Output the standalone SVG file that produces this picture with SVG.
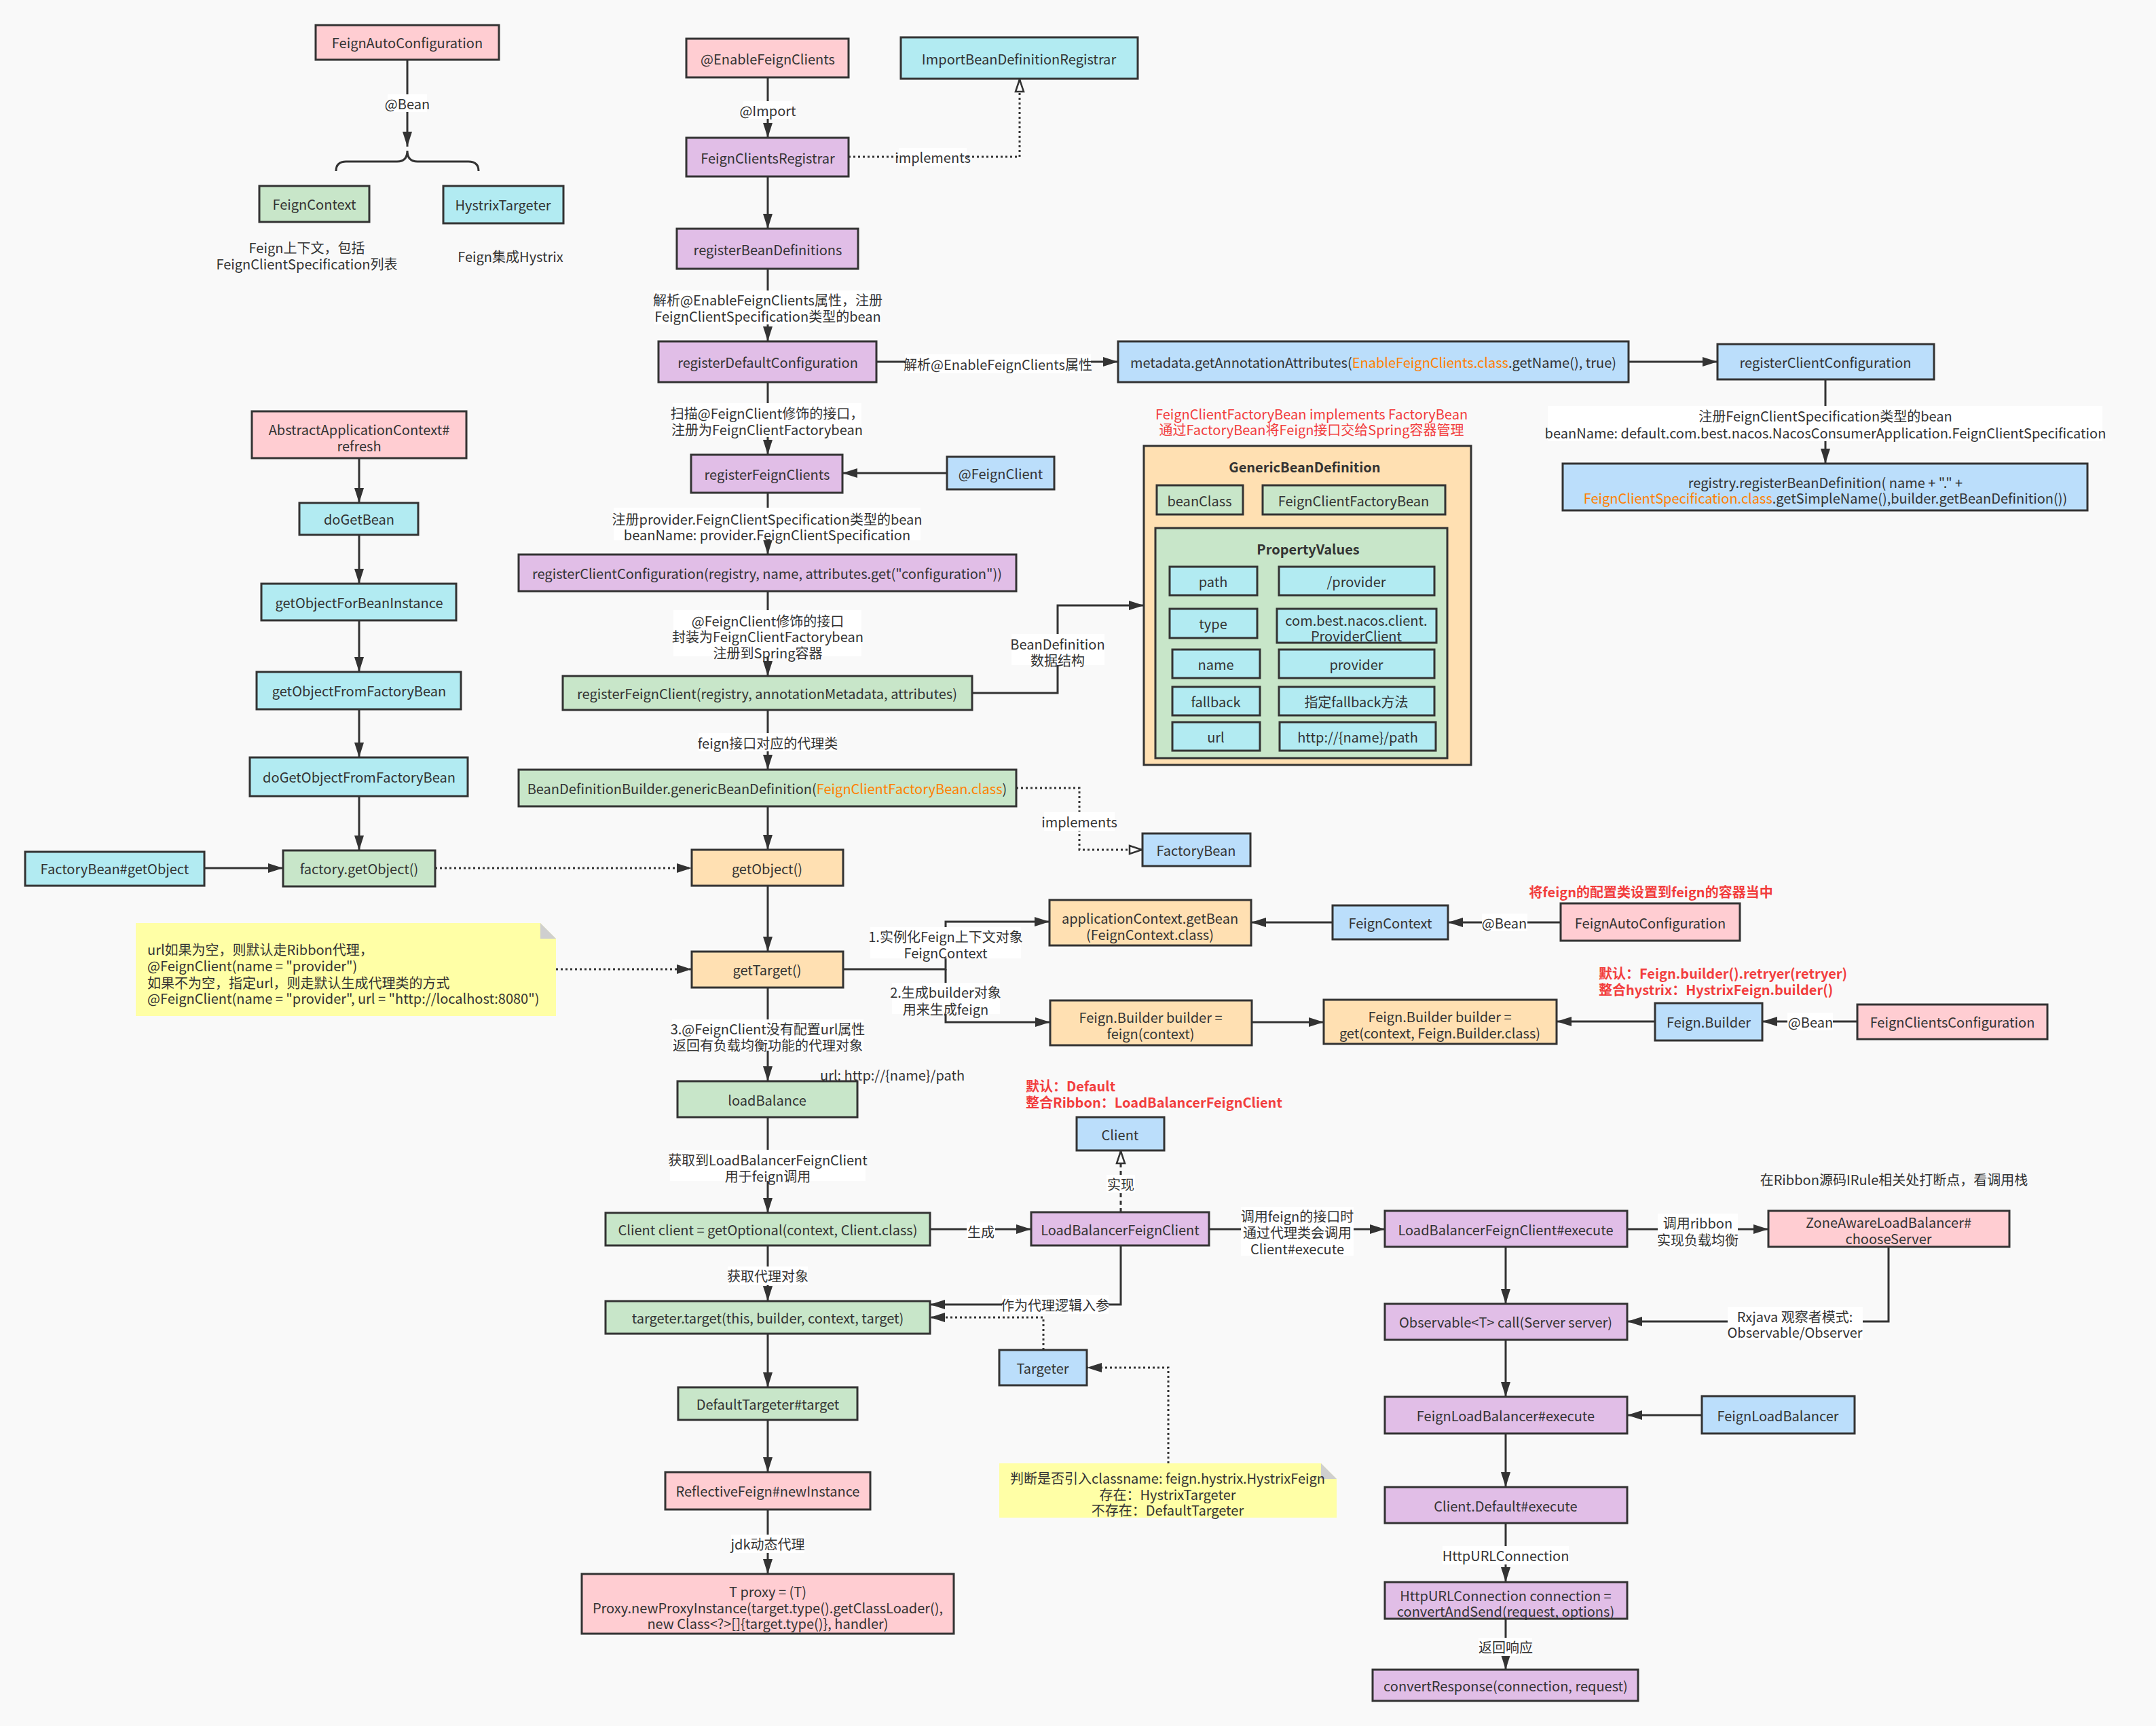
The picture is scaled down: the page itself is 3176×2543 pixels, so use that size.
<svg xmlns="http://www.w3.org/2000/svg" width="3176" height="2543" viewBox="0 0 3176 2543">
<style>
.n{stroke:#333;stroke-width:3}
.pk{fill:#ffcdd2}.pu{fill:#e1bee7}.gr{fill:#c8e6c9}.cy{fill:#b2ebf2}.bl{fill:#bbdefb}.or{fill:#ffe0b2}
.t{font-family:"Noto Sans CJK SC","Noto Sans",sans-serif;font-size:20px;fill:#333;text-anchor:middle;dominant-baseline:central}
.l{text-anchor:start}
.b{font-weight:bold}
.red{fill:#f23d3d}
.o{fill:#ff7f00}
.c{fill:none;stroke:#333;stroke-width:3}
.d{stroke-dasharray:3 4}
.w{fill:#fff}
</style>
<defs>
<marker id="a" markerUnits="userSpaceOnUse" markerWidth="24" markerHeight="18" refX="22" refY="8" orient="auto"><path d="M0,1 L22,8 L0,15 Z" fill="#333"/></marker>
<marker id="h" markerUnits="userSpaceOnUse" markerWidth="24" markerHeight="18" refX="21" refY="8" orient="auto"><path d="M2,2 L20,8 L2,14 Z" fill="#fff" stroke="#333" stroke-width="2.5"/></marker>
</defs>
<rect width="3176" height="2543" fill="#f9f9f9"/>

<g id="connectors">
<path class="c" d="M600,88 V216" marker-end="url(#a)"/>
<path class="c" d="M495,252 Q495,238 510,238 H585 Q600,238 600,222 Q600,238 615,238 H690 Q705,238 705,252"/>
<path class="c" d="M529,675 V741" marker-end="url(#a)"/>
<path class="c" d="M529,788 V860" marker-end="url(#a)"/>
<path class="c" d="M529,914 V990" marker-end="url(#a)"/>
<path class="c" d="M529,1045 V1116" marker-end="url(#a)"/>
<path class="c" d="M529,1173 V1253" marker-end="url(#a)"/>
<path class="c" d="M301,1279 H417" marker-end="url(#a)"/>
<path class="c d" d="M641,1279 H1019" marker-end="url(#a)"/>
<path class="c" d="M1131,114 V203" marker-end="url(#a)"/>
<path class="c d" d="M1250,231 H1502 V116" marker-end="url(#h)"/>
<path class="c" d="M1131,260 V337" marker-end="url(#a)"/>
<path class="c" d="M1131,396 V503" marker-end="url(#a)"/>
<path class="c" d="M1291,533 H1647" marker-end="url(#a)"/>
<path class="c" d="M2399,533 H2530" marker-end="url(#a)"/>
<path class="c" d="M2689,559 V683" marker-end="url(#a)"/>
<path class="c" d="M1131,563 V670" marker-end="url(#a)"/>
<path class="c" d="M1395,697 H1241" marker-end="url(#a)"/>
<path class="c" d="M1131,726 V817" marker-end="url(#a)"/>
<path class="c" d="M1131,871 V996" marker-end="url(#a)"/>
<path class="c" d="M1432,1021 H1558 V892 H1685" marker-end="url(#a)"/>
<path class="c" d="M1131,1046 V1134" marker-end="url(#a)"/>
<path class="c d" d="M1497,1161 H1590 V1252 H1683" marker-end="url(#h)"/>
<path class="c" d="M1131,1188 V1252" marker-end="url(#a)"/>
<path class="c" d="M1131,1305 V1402" marker-end="url(#a)"/>
<path class="c d" d="M819,1428 H1019" marker-end="url(#a)"/>
<path class="c" d="M1242,1428 H1393 V1358 H1546" marker-end="url(#a)"/>
<path class="c" d="M1393,1428 V1506 H1547" marker-end="url(#a)"/>
<path class="c" d="M1963,1359 H1843" marker-end="url(#a)"/>
<path class="c" d="M2299,1359 H2133" marker-end="url(#a)"/>
<path class="c" d="M1844,1506 H1950" marker-end="url(#a)"/>
<path class="c" d="M2438,1505 H2293" marker-end="url(#a)"/>
<path class="c" d="M2736,1505 H2596" marker-end="url(#a)"/>
<path class="c" d="M1131,1455 V1593" marker-end="url(#a)"/>
<path class="c" d="M1131,1646 V1787" marker-end="url(#a)"/>
<path class="c" d="M1370,1811 H1519" marker-end="url(#a)"/>
<path class="c" d="M1651,1786 V1695" stroke-dasharray="6 5" marker-end="url(#h)"/>
<path class="c" d="M1781,1811 H2040" marker-end="url(#a)"/>
<path class="c" d="M1131,1835 V1917" marker-end="url(#a)"/>
<path class="c" d="M1651,1835 V1922 H1370" marker-end="url(#a)"/>
<path class="c d" d="M1537,1989 V1941 H1370" marker-end="url(#a)"/>
<path class="c d" d="M1721,2156 V2015 H1601" marker-end="url(#a)"/>
<path class="c" d="M1131,1965 V2044" marker-end="url(#a)"/>
<path class="c" d="M1131,2092 V2169" marker-end="url(#a)"/>
<path class="c" d="M1131,2224 V2319" marker-end="url(#a)"/>
<path class="c" d="M2397,1811 H2605" marker-end="url(#a)"/>
<path class="c" d="M2782,1837 V1947 H2397" marker-end="url(#a)"/>
<path class="c" d="M2218,1837 V1921" marker-end="url(#a)"/>
<path class="c" d="M2218,1974 V2058" marker-end="url(#a)"/>
<path class="c" d="M2507,2085 H2397" marker-end="url(#a)"/>
<path class="c" d="M2218,2112 V2191" marker-end="url(#a)"/>
<path class="c" d="M2218,2244 V2331" marker-end="url(#a)"/>
<path class="c" d="M2218,2385 V2460" marker-end="url(#a)"/>

<rect class="w" x="571" y="139" width="58" height="26"/><text class="t" x="600" y="152">@Bean</text>
<rect class="w" x="1095" y="149" width="72" height="26"/><text class="t" x="1131" y="162">@Import</text>
<rect class="w" x="1324" y="218" width="100" height="26"/><text class="t" x="1374" y="231">implements</text>
<rect class="w" x="964" y="428" width="333" height="50"/><text class="t" x="1131" y="441">解析@EnableFeignClients属性，注册</text><text class="t" x="1131" y="465">FeignClientSpecification类型的bean</text>
<rect class="w" x="1333" y="522" width="274" height="28"/><text class="t" x="1470" y="536">解析@EnableFeignClients属性</text>
<rect class="w" x="2280" y="598" width="817" height="52"/><text class="t" x="2689" y="612">注册FeignClientSpecification类型的bean</text><text class="t" x="2689" y="637">beanName: default.com.best.nacos.NacosConsumerApplication.FeignClientSpecification</text>
<rect class="w" x="991" y="594" width="278" height="50"/><text class="t" x="1130" y="608">扫描@FeignClient修饰的接口，</text><text class="t" x="1130" y="632">注册为FeignClientFactorybean</text>
<rect class="w" x="904" y="748" width="452" height="48"/><text class="t" x="1130" y="764">注册provider.FeignClientSpecification类型的bean</text><text class="t" x="1130" y="787">beanName: provider.FeignClientSpecification</text>
<rect class="w" x="992" y="899" width="277" height="68"/><text class="t" x="1131" y="914">@FeignClient修饰的接口</text><text class="t" x="1131" y="937">封装为FeignClientFactorybean</text><text class="t" x="1131" y="961">注册到Spring容器</text>
<rect class="w" x="1490" y="934" width="137" height="46"/><text class="t" x="1558" y="948">BeanDefinition</text><text class="t" x="1558" y="972">数据结构</text>
<rect class="w" x="1029" y="1080" width="204" height="27"/><text class="t" x="1131" y="1094">feign接口对应的代理类</text>
<rect class="w" x="1538" y="1196" width="104" height="28"/><text class="t" x="1590" y="1210">implements</text>
<rect class="w" x="1282" y="1366" width="222" height="46"/><text class="t" x="1393" y="1379">1.实例化Feign上下文对象</text><text class="t" x="1393" y="1403">FeignContext</text>
<rect class="w" x="1314" y="1448" width="159" height="46"/><text class="t" x="1393" y="1461">2.生成builder对象</text><text class="t" x="1393" y="1486">用来生成feign</text>
<rect class="w" x="2183" y="1346" width="67" height="26"/><text class="t" x="2216" y="1359">@Bean</text>
<rect class="w" x="2633" y="1492" width="67" height="26"/><text class="t" x="2667" y="1505">@Bean</text>
<rect class="w" x="990" y="1502" width="282" height="46"/><text class="t" x="1131" y="1515">3.@FeignClient没有配置url属性</text><text class="t" x="1131" y="1539">返回有负载均衡功能的代理对象</text>
<rect class="w" x="987" y="1694" width="288" height="46"/><text class="t" x="1131" y="1708">获取到LoadBalancerFeignClient</text><text class="t" x="1131" y="1732">用于feign调用</text>
<rect class="w" x="1424" y="1801" width="42" height="26"/><text class="t" x="1445" y="1814">生成</text>
<rect class="w" x="1630" y="1731" width="42" height="26"/><text class="t" x="1651" y="1744">实现</text>
<rect class="w" x="1828" y="1778" width="166" height="72"/><text class="t" x="1911" y="1791">调用feign的接口时</text><text class="t" x="1911" y="1815">通过代理类会调用</text><text class="t" x="1911" y="1839">Client#execute</text>
<rect class="w" x="1072" y="1866" width="118" height="27"/><text class="t" x="1131" y="1879">获取代理对象</text>
<rect class="w" x="1476" y="1908" width="157" height="28"/><text class="t" x="1554" y="1922">作为代理逻辑入参</text>
<rect class="w" x="1077" y="2261" width="108" height="27"/><text class="t" x="1131" y="2274">jdk动态代理</text>
<rect class="w" x="2442" y="1788" width="118" height="50"/><text class="t" x="2501" y="1801">调用ribbon</text><text class="t" x="2501" y="1826">实现负载均衡</text>
<rect class="w" x="2545" y="1926" width="199" height="48"/><text class="t" x="2644" y="1939">Rxjava 观察者模式:</text><text class="t" x="2644" y="1962">Observable/Observer</text>
<rect class="w" x="2125" y="2278" width="186" height="27"/><text class="t" x="2218" y="2291">HttpURLConnection</text>
<rect class="w" x="2178" y="2413" width="79" height="27"/><text class="t" x="2218" y="2426">返回响应</text>
</g>

<g id="texts">
<text class="t" x="452" y="364">Feign上下文，包括</text>
<text class="t" x="452" y="388">FeignClientSpecification列表</text>
<text class="t" x="752" y="377">Feign集成Hystrix</text>
<text class="t red" x="1932" y="609">FeignClientFactoryBean implements FactoryBean</text>
<text class="t red" x="1932" y="632">通过FactoryBean将Feign接口交给Spring容器管理</text>
<text class="t red b" x="2432" y="1313">将feign的配置类设置到feign的容器当中</text>
<text class="t red b l" x="2355" y="1433">默认：Feign.builder().retryer(retryer)</text>
<text class="t red b l" x="2355" y="1457">整合hystrix：HystrixFeign.builder()</text>
<text class="t l" x="1208" y="1583">url: http://{name}/path</text>
<text class="t red b l" x="1511" y="1599">默认：Default</text>
<text class="t red b l" x="1511" y="1623">整合Ribbon：LoadBalancerFeignClient</text>
<text class="t" x="2790" y="1737">在Ribbon源码IRule相关处打断点，看调用栈</text>
</g>

<g id="n-feignAutoConfig1"><rect class="n pk" x="465" y="37" width="270" height="51"/><text class="t" x="600" y="62">FeignAutoConfiguration</text></g>
<g id="n-feignContext1"><rect class="n gr" x="382" y="274" width="162" height="53"/><text class="t" x="463" y="300">FeignContext</text></g>
<g id="n-hystrixTargeter"><rect class="n cy" x="653" y="274" width="177" height="55"/><text class="t" x="741" y="301">HystrixTargeter</text></g>

<g id="n-refresh"><rect class="n pk" x="371" y="606" width="316" height="69"/><text class="t" x="529" y="632">AbstractApplicationContext#</text><text class="t" x="529" y="656">refresh</text></g>
<g id="n-doGetBean"><rect class="n cy" x="441" y="741" width="175" height="47"/><text class="t" x="529" y="764">doGetBean</text></g>
<g id="n-getObjectForBeanInstance"><rect class="n cy" x="385" y="860" width="287" height="54"/><text class="t" x="529" y="887">getObjectForBeanInstance</text></g>
<g id="n-getObjectFromFactoryBean"><rect class="n cy" x="378" y="990" width="301" height="55"/><text class="t" x="529" y="1017">getObjectFromFactoryBean</text></g>
<g id="n-doGetObjectFromFactoryBean"><rect class="n cy" x="368" y="1116" width="321" height="57"/><text class="t" x="529" y="1144">doGetObjectFromFactoryBean</text></g>
<g id="n-factoryGetObject"><rect class="n gr" x="417" y="1253" width="224" height="53"/><text class="t" x="529" y="1279">factory.getObject()</text></g>
<g id="n-factoryBeanGetObject"><rect class="n cy" x="37" y="1255" width="264" height="50"/><text class="t" x="169" y="1279">FactoryBean#getObject</text></g>

<g id="n-enableFeignClients"><rect class="n pk" x="1011" y="57" width="239" height="57"/><text class="t" x="1131" y="86">@EnableFeignClients</text></g>
<g id="n-importBDR"><rect class="n cy" x="1327" y="55" width="349" height="61"/><text class="t" x="1501" y="86">ImportBeanDefinitionRegistrar</text></g>
<g id="n-feignClientsRegistrar"><rect class="n pu" x="1011" y="203" width="239" height="57"/><text class="t" x="1131" y="232">FeignClientsRegistrar</text></g>
<g id="n-registerBeanDefinitions"><rect class="n pu" x="997" y="337" width="267" height="59"/><text class="t" x="1131" y="367">registerBeanDefinitions</text></g>
<g id="n-registerDefaultConfiguration"><rect class="n pu" x="970" y="503" width="321" height="60"/><text class="t" x="1131" y="533">registerDefaultConfiguration</text></g>
<g id="n-metadata"><rect class="n bl" x="1647" y="503" width="752" height="60"/><text class="t" x="2023" y="533">metadata.getAnnotationAttributes(<tspan class="o">EnableFeignClients.class</tspan>.getName(), true)</text></g>
<g id="n-registerClientConfiguration1"><rect class="n bl" x="2530" y="507" width="319" height="52"/><text class="t" x="2689" y="533">registerClientConfiguration</text></g>
<g id="n-registry"><rect class="n bl" x="2302" y="683" width="773" height="69"/><text class="t" x="2689" y="710">registry.registerBeanDefinition( name + "." +</text><text class="t" x="2689" y="733"><tspan class="o">FeignClientSpecification.class</tspan>.getSimpleName(),builder.getBeanDefinition())</text></g>
<g id="n-registerFeignClients"><rect class="n pu" x="1018" y="670" width="223" height="56"/><text class="t" x="1130" y="698">registerFeignClients</text></g>
<g id="n-feignClientAnno"><rect class="n bl" x="1395" y="673" width="158" height="48"/><text class="t" x="1474" y="697">@FeignClient</text></g>
<g id="n-registerClientConfiguration2"><rect class="n pu" x="764" y="817" width="733" height="54"/><text class="t" x="1130" y="844">registerClientConfiguration(registry, name, attributes.get("configuration"))</text></g>
<g id="n-registerFeignClient"><rect class="n gr" x="829" y="996" width="603" height="50"/><text class="t" x="1130" y="1021">registerFeignClient(registry, annotationMetadata, attributes)</text></g>
<g id="n-bdb"><rect class="n gr" x="764" y="1134" width="733" height="54"/><text class="t" x="1130" y="1161">BeanDefinitionBuilder.genericBeanDefinition(<tspan class="o">FeignClientFactoryBean.class</tspan>)</text></g>

<g id="n-genericBeanDefinition">
<rect class="n or" x="1685" y="657" width="482" height="470"/>
<text class="t b" x="1922" y="687">GenericBeanDefinition</text>
<rect class="n gr" x="1704" y="715" width="127" height="43"/><text class="t" x="1767" y="737">beanClass</text>
<rect class="n gr" x="1860" y="715" width="269" height="43"/><text class="t" x="1994" y="737">FeignClientFactoryBean</text>
<rect class="n gr" x="1702" y="778" width="430" height="339"/>
<text class="t b" x="1927" y="808">PropertyValues</text>
<rect class="n cy" x="1723" y="835" width="129" height="42"/><text class="t" x="1787" y="856">path</text>
<rect class="n cy" x="1884" y="835" width="229" height="42"/><text class="t" x="1998" y="856">/provider</text>
<rect class="n cy" x="1723" y="897" width="129" height="43"/><text class="t" x="1787" y="918">type</text>
<rect class="n cy" x="1881" y="897" width="235" height="50"/><text class="t" x="1998" y="913">com.best.nacos.client.</text><text class="t" x="1998" y="936">ProviderClient</text>
<rect class="n cy" x="1727" y="957" width="129" height="42"/><text class="t" x="1791" y="978">name</text>
<rect class="n cy" x="1884" y="957" width="229" height="42"/><text class="t" x="1998" y="978">provider</text>
<rect class="n cy" x="1727" y="1012" width="129" height="42"/><text class="t" x="1791" y="1033">fallback</text>
<rect class="n cy" x="1884" y="1012" width="229" height="42"/><text class="t" x="1998" y="1033">指定fallback方法</text>
<rect class="n cy" x="1727" y="1064" width="129" height="42"/><text class="t" x="1791" y="1085">url</text>
<rect class="n cy" x="1885" y="1064" width="230" height="42"/><text class="t" x="2000" y="1085">http://{name}/path</text>
</g>

<g id="n-factoryBean"><rect class="n bl" x="1683" y="1228" width="159" height="48"/><text class="t" x="1762" y="1252">FactoryBean</text></g>
<g id="n-getObject"><rect class="n or" x="1019" y="1252" width="223" height="53"/><text class="t" x="1130" y="1279">getObject()</text></g>
<g id="n-getTarget"><rect class="n or" x="1019" y="1402" width="223" height="53"/><text class="t" x="1130" y="1428">getTarget()</text></g>
<g id="n-appCtxGetBean"><rect class="n or" x="1546" y="1326" width="297" height="67"/><text class="t" x="1694" y="1352">applicationContext.getBean</text><text class="t" x="1694" y="1376">(FeignContext.class)</text></g>
<g id="n-builderFeign"><rect class="n or" x="1547" y="1474" width="297" height="66"/><text class="t" x="1695" y="1498">Feign.Builder builder =</text><text class="t" x="1695" y="1522">feign(context)</text></g>
<g id="n-feignContext2"><rect class="n bl" x="1963" y="1334" width="170" height="50"/><text class="t" x="2048" y="1359">FeignContext</text></g>
<g id="n-feignAutoConfig2"><rect class="n pk" x="2299" y="1331" width="264" height="55"/><text class="t" x="2431" y="1359">FeignAutoConfiguration</text></g>
<g id="n-builderGet"><rect class="n or" x="1950" y="1473" width="343" height="65"/><text class="t" x="2121" y="1497">Feign.Builder builder =</text><text class="t" x="2121" y="1521">get(context, Feign.Builder.class)</text></g>
<g id="n-feignBuilder"><rect class="n bl" x="2438" y="1478" width="158" height="55"/><text class="t" x="2517" y="1505">Feign.Builder</text></g>
<g id="n-feignClientsConfiguration"><rect class="n pk" x="2736" y="1480" width="280" height="51"/><text class="t" x="2876" y="1505">FeignClientsConfiguration</text></g>

<g id="n-note1"><path d="M200,1360 H796 L819,1383 V1497 H200 Z" fill="#ffffa6"/><path d="M796,1360 V1383 H819 Z" fill="#cfcfcf"/>
<text class="t l" x="217" y="1398">url如果为空，则默认走Ribbon代理，</text>
<text class="t l" x="217" y="1422">@FeignClient(name = "provider")</text>
<text class="t l" x="217" y="1447">如果不为空，指定url，则走默认生成代理类的方式</text>
<text class="t l" x="217" y="1470">@FeignClient(name = "provider", url = "http://localhost:8080")</text></g>

<g id="n-loadBalance"><rect class="n gr" x="998" y="1593" width="265" height="53"/><text class="t" x="1130" y="1620">loadBalance</text></g>
<g id="n-client"><rect class="n bl" x="1586" y="1646" width="129" height="49"/><text class="t" x="1650" y="1671">Client</text></g>
<g id="n-clientGetOptional"><rect class="n gr" x="892" y="1787" width="478" height="48"/><text class="t" x="1131" y="1811">Client client = getOptional(context, Client.class)</text></g>
<g id="n-lbfc"><rect class="n pu" x="1519" y="1786" width="262" height="49"/><text class="t" x="1650" y="1811">LoadBalancerFeignClient</text></g>
<g id="n-targeterTarget"><rect class="n gr" x="892" y="1917" width="478" height="48"/><text class="t" x="1131" y="1941">targeter.target(this, builder, context, target)</text></g>
<g id="n-targeter"><rect class="n bl" x="1472" y="1989" width="129" height="52"/><text class="t" x="1536" y="2015">Targeter</text></g>
<g id="n-note2"><path d="M1472,2156 H1946 L1969,2179 V2236 H1472 Z" fill="#ffffa6"/><path d="M1946,2156 V2179 H1969 Z" fill="#cfcfcf"/>
<text class="t" x="1720" y="2177">判断是否引入classname: feign.hystrix.HystrixFeign</text>
<text class="t" x="1720" y="2201">存在：HystrixTargeter</text>
<text class="t" x="1720" y="2224">不存在：DefaultTargeter</text></g>
<g id="n-defaultTargeter"><rect class="n gr" x="999" y="2044" width="264" height="48"/><text class="t" x="1131" y="2068">DefaultTargeter#target</text></g>
<g id="n-reflectiveFeign"><rect class="n pk" x="980" y="2169" width="302" height="55"/><text class="t" x="1131" y="2196">ReflectiveFeign#newInstance</text></g>
<g id="n-proxy"><rect class="n pk" x="857" y="2319" width="548" height="88"/><text class="t" x="1131" y="2344">T proxy = (T)</text><text class="t" x="1131" y="2368">Proxy.newProxyInstance(target.type().getClassLoader(),</text><text class="t" x="1131" y="2391">new Class&lt;?&gt;[]{target.type()}, handler)</text></g>

<g id="n-lbfcExecute"><rect class="n pu" x="2040" y="1784" width="357" height="53"/><text class="t" x="2218" y="1811">LoadBalancerFeignClient#execute</text></g>
<g id="n-zoneAware"><rect class="n pk" x="2605" y="1784" width="355" height="53"/><text class="t" x="2782" y="1800">ZoneAwareLoadBalancer#</text><text class="t" x="2782" y="1824">chooseServer</text></g>
<g id="n-observable"><rect class="n pu" x="2040" y="1921" width="357" height="53"/><text class="t" x="2218" y="1947">Observable&lt;T&gt; call(Server server)</text></g>
<g id="n-flbExecute"><rect class="n pu" x="2040" y="2058" width="357" height="54"/><text class="t" x="2218" y="2085">FeignLoadBalancer#execute</text></g>
<g id="n-flb"><rect class="n bl" x="2507" y="2057" width="225" height="55"/><text class="t" x="2619" y="2085">FeignLoadBalancer</text></g>
<g id="n-clientDefault"><rect class="n pu" x="2040" y="2191" width="357" height="53"/><text class="t" x="2218" y="2218">Client.Default#execute</text></g>
<g id="n-httpConn"><rect class="n pu" x="2040" y="2331" width="357" height="54"/><text class="t" x="2218" y="2350">HttpURLConnection connection =</text><text class="t" x="2218" y="2373">convertAndSend(request, options)</text></g>
<g id="n-convertResponse"><rect class="n pu" x="2022" y="2460" width="391" height="46"/><text class="t" x="2218" y="2483">convertResponse(connection, request)</text></g>
</svg>
